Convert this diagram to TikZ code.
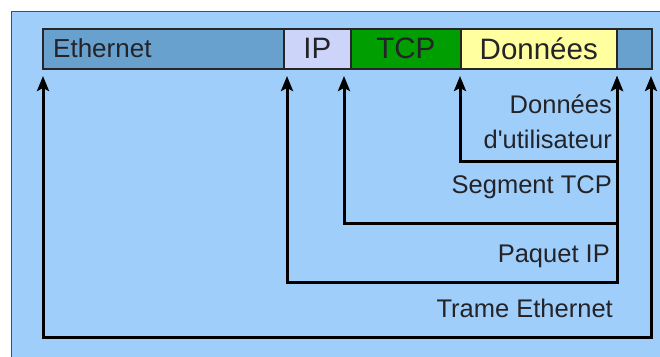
\documentclass[tikz,border=0pt]{standalone}
\usepackage{fontspec}
\setmainfont{Liberation Sans}
\usetikzlibrary{arrows.meta}
\definecolor{panelblue}{RGB}{160,206,250}
\definecolor{panelline}{RGB}{70,80,90}
\definecolor{ethblue}{RGB}{104,160,206}
\definecolor{iplav}{RGB}{204,212,250}
\definecolor{tcpgreen}{RGB}{0,158,0}
\definecolor{datayellow}{RGB}{255,255,160}
\definecolor{txt}{RGB}{35,35,40}
\tikzset{
  seg/.style={draw=black!85, line width=1.5pt, rectangle, inner sep=0pt,
    minimum height=40pt, anchor=north west, text=txt,
    font=\fontsize{29.5}{31}\selectfont},
  lbl/.style={anchor=base east, inner sep=0pt, text=txt,
    font=\fontsize{25.5}{27}\selectfont},
  conn/.style={line width=3pt, draw=black, line join=miter,
    >={Stealth[length=15pt,width=12pt,inset=3pt]}}
}
\begin{document}
\begin{tikzpicture}[x=1pt,y=-1pt]
\useasboundingbox (0,0) rectangle (660,356);
\fill[white] (0,0) rectangle (660,356);
\draw[fill=panelblue, draw=panelline, line width=1pt] (11,11) rectangle (668,364);

% bar segments
\node[seg, fill=ethblue, minimum width=241pt] (eth) at (42,28) {};
\node[seg, fill=iplav, minimum width=67pt] (ip) at (283,28) {IP};
\node[seg, fill=tcpgreen, minimum width=110pt] (tcp) at (350,28) {TCP};
\node[seg, fill=datayellow, minimum width=156pt] (data) at (460,28) {Donn\'ees};
\node[seg, fill=ethblue, minimum width=35pt] (trl) at (616,28) {};
\node[anchor=base west, inner sep=0pt, text=txt, font=\fontsize{26}{28}\selectfont] (ethtxt) at (53,57) {Ethernet};

% connector corners
\coordinate (tips) at (0,76);
\coordinate (u1) at (460,161);
\coordinate (u2) at (617,161);
\coordinate (s1) at (344,223);
\coordinate (s2) at (617,223);
\coordinate (p1) at (287,282);
\coordinate (p2) at (617,282);
\coordinate (e1) at (43,337);
\coordinate (e2) at (651,337);

\draw[conn, <->] (u1 |- tips) -- (u1) -- (u2) -- (u2 |- tips);
\draw[conn, <-] (s1 |- tips) -- (s1) -- (s2);
\draw[conn, <->] (p1 |- tips) -- (p1) -- (p2) -- (p2 |- tips);
\draw[conn, <->] (e1 |- tips) -- (e1) -- (e2) -- (e2 |- tips);

% labels
\node[lbl] (l1) at (612,113) {Donn\'ees};
\node[lbl] (l2) at (612,148) {d\textquotesingle utilisateur};
\node[lbl] (l3) at (612,193) {Segment TCP};
\node[lbl] (l4) at (610,262) {Paquet IP};
\node[lbl] (l5) at (613,317) {Trame Ethernet};
\end{tikzpicture}
\end{document}
